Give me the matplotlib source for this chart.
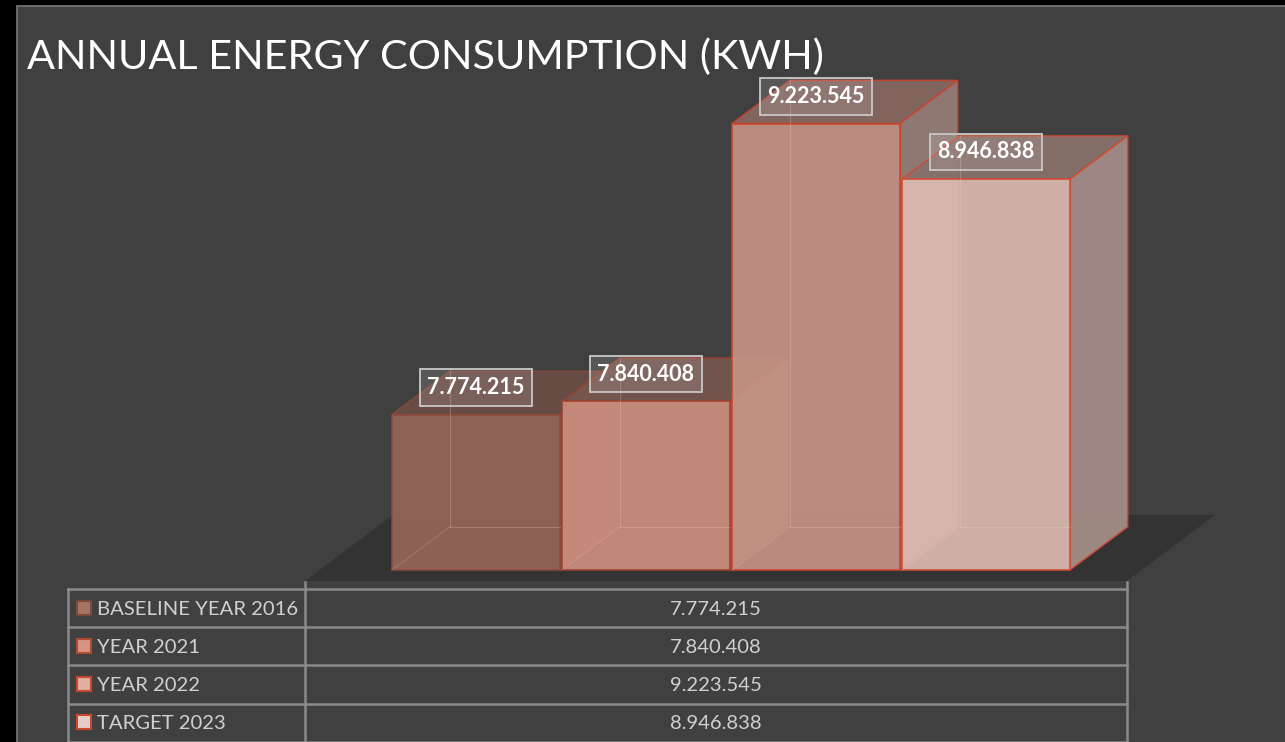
import matplotlib.pyplot as plt
from matplotlib.patches import Polygon, Rectangle

plt.rcParams['font.family'] = ['Lato', 'DejaVu Sans']

categories = ["BASELINE YEAR 2016", "YEAR 2021", "YEAR 2022", "TARGET 2023"]
values = [7774215, 7840408, 9223545, 8946838]
title = "ANNUAL ENERGY CONSUMPTION (KWH)"

front_colors = ["#966558", "#cc8d7d", "#c49385", "#dab9b0"]
side_colors = ["#7a5a52", "#94746c", "#957c75", "#a48c86"]
top_colors = ["#6a4c46", "#74564f", "#85675f", "#86706a"]
edge_colors = ["#8a4a3c", "#a0402c", "#c8432c", "#d04a30"]
swatch_colors = ["#a87466", "#d59484", "#e0afa4", "#e6cdc8"]
swatch_edges = ["#7a4a3e", "#b04a34", "#c84a2c", "#c84a2c"]


def fmt(v):
    return f"{v:,}".replace(",", ".")


W, H = 1285, 742
fig = plt.figure(figsize=(W / 100, H / 100), dpi=100, facecolor="black")

# background / title in pixel units
bg = fig.add_axes([0, 0, 1, 1])
bg.set_xlim(0, W)
bg.set_ylim(H, 0)
bg.axis("off")
bg.add_patch(Rectangle((17, 6), W, H, facecolor="#404040", edgecolor="#7a7a7a", lw=1.2))
bg.text(27, 69, title, color="white", fontsize=29.8, va="baseline", ha="left")

# chart axes
ax = fig.add_axes([0, 0, 1, 1])
ax.patch.set_alpha(0)
ax.axis("off")
ax.set_xlim(-2.8, 4.759)
ax.set_ylim(6.1434e6, 9.8386e6)

base = 7_000_000
bw = 0.988
ddx, ddy = 0.34, 215_000

# floor
fl_y0 = 6.945e6
fl_dx, fl_dy = 0.518, 329_000
ax.add_patch(Polygon([(-1.006, fl_y0), (3.829, fl_y0), (3.829 + fl_dx, fl_y0 + fl_dy),
                      (-1.006 + fl_dx, fl_y0 + fl_dy)], closed=True,
                     facecolor="#333333", edgecolor="none", zorder=1))

for i, v in enumerate(values):
    x0, x1 = i - bw / 2, i + bw / 2
    z = 2 + i
    top = Polygon([(x0, v), (x1, v), (x1 + ddx, v + ddy), (x0 + ddx, v + ddy)], closed=True,
                  facecolor=top_colors[i], edgecolor=edge_colors[i], lw=1.0, alpha=0.95, zorder=z)
    side = Polygon([(x1, base), (x1 + ddx, base + ddy), (x1 + ddx, v + ddy), (x1, v)], closed=True,
                   facecolor=side_colors[i], edgecolor=edge_colors[i], lw=1.0, alpha=0.95, zorder=z)
    front = Rectangle((x0, base), bw, v - base, facecolor=front_colors[i],
                      edgecolor=edge_colors[i], lw=1.2, alpha=0.93, zorder=z + 0.1)
    ax.add_patch(top)
    ax.add_patch(side)
    ax.add_patch(front)
    # inner back edges seen through the glass
    ax.plot([x0 + ddx, x0 + ddx], [base + ddy, v + ddy], color="#f0d0c8", lw=0.8, alpha=0.25, zorder=z + 0.2)
    ax.plot([x0 + ddx, x1], [base + ddy, base + ddy], color="#f0d0c8", lw=0.8, alpha=0.25, zorder=z + 0.2)
    ax.plot([x0, x0 + ddx], [base, base + ddy], color="#f0d0c8", lw=0.8, alpha=0.2, zorder=z + 0.2)

for i, v in enumerate(values):
    ax.text(i, v + 135_000, fmt(v), color="white", fontsize=15.5, fontweight="bold",
            ha="center", va="center", zorder=20,
            bbox=dict(boxstyle="square,pad=0.36", facecolor=(1, 1, 1, 0.12),
                      edgecolor="#c8c8c8", lw=1.3))

# data table
tab = fig.add_axes([0, 0, 1, 1])
tab.patch.set_alpha(0)
tab.set_xlim(0, W)
tab.set_ylim(H, 0)
tab.axis("off")
row_top, row_h = 589, 38.2
x_left, x_mid, x_right = 68, 305, 1127
lc = "#8a8a8a"
n = len(categories)
for r in range(n + 1):
    tab.plot([x_left, x_right], [row_top + r * row_h] * 2, color=lc, lw=1.8)
for xx in (x_left, x_mid, x_right):
    tab.plot([xx, xx], [row_top, row_top + n * row_h], color=lc, lw=1.8)
for xx in (x_mid, x_right):
    tab.plot([xx, xx], [582, row_top], color=lc, lw=1.8)
for r, (cat, v) in enumerate(zip(categories, values)):
    yc = row_top + (r + 0.5) * row_h
    tab.add_patch(Rectangle((77, yc - 7.5), 14, 14, facecolor=swatch_colors[r],
                            edgecolor=swatch_edges[r], lw=1.5))
    tab.text(97, yc + 1, cat, color="#d0d0d0", fontsize=14.6, ha="left", va="center")
    tab.text((x_mid + x_right) / 2, yc + 1, fmt(v), color="#d0d0d0", fontsize=14.6,
             ha="center", va="center")

fig.savefig("out.png", dpi=100, facecolor="black")
